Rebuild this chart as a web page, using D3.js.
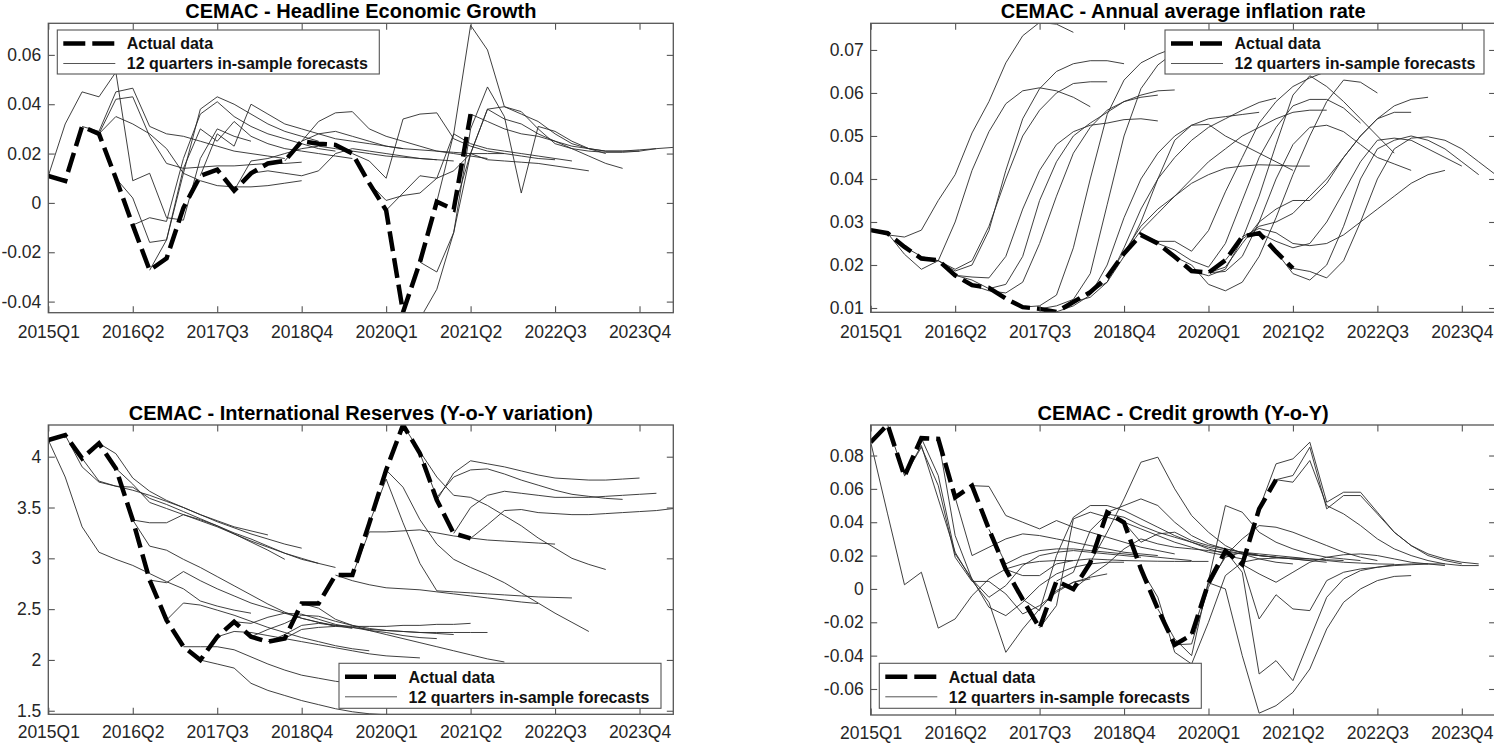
<!DOCTYPE html>
<html>
<head>
<meta charset="utf-8">
<script src="https://cdn.jsdelivr.net/npm/d3@7"></script>
<style>
  body { margin: 0; background: #fff; }
  svg { display: block; }
  text { font-family: "Liberation Sans", Arial, sans-serif; }
</style>
</head>
<body>
<svg id="chart" width="1494" height="744"></svg>
<script>
// quarter index: 0 = 2015Q1 ... 37 = 2024Q2
const tickIdx = [0, 5, 10, 15, 20, 25, 30, 35];
const tickLabels = ["2015Q1", "2016Q2", "2017Q3", "2018Q4", "2020Q1", "2021Q2", "2022Q3", "2023Q4"];
const legendLabels = ["Actual data", "12 quarters in-sample forecasts"];

// ---- Headline Economic Growth
const growthActual = [0.0109, 0.0089, 0.031, 0.028, 0.010, -0.009, -0.0273, -0.0225, -0.002, 0.011, 0.0135,
  0.005, 0.012, 0.016, 0.017, 0.025, 0.024, 0.0235, 0.020, 0.008, -0.003, -0.0443, -0.024, 0.0005, -0.0027, 0.036];
const growthYTicks = [-0.04, -0.02, 0, 0.02, 0.04, 0.06];
// [start quarter, values]
const growthForecasts = [
  [0, [0.0109, 0.032, 0.045, 0.043, 0.053, 0.009, 0.012, -0.006, -0.007, 0.018, 0.030, 0.027, 0.025]],
  [2, [0.031, 0.029, 0.045, 0.0465, 0.031, 0.028, 0.027, 0.025, 0.023, 0.021, 0.020, 0.019, 0.018]],
  [3, [0.028, 0.042, 0.043, 0.027, 0.016, 0.014, 0.0145, 0.015, 0.015, 0.0155, 0.016, 0.016, 0.0165]],
  [3, [0.028, 0.035, 0.032, 0.028, 0.022, 0.012, 0.009, 0.007, 0.0065, 0.0065, 0.007, 0.008, 0.009]],
  [4, [0.010, 0.002, -0.016, -0.015, 0.012, 0.038, 0.043, 0.040, 0.036, 0.032, 0.029, 0.027, 0.025]],
  [5, [-0.009, -0.006, -0.0075, 0.018, 0.036, 0.041, 0.035, 0.031, 0.028, 0.026, 0.024, 0.022, 0.021]],
  [6, [-0.0273, -0.015, 0.014, 0.030, 0.025, 0.033, 0.027, 0.024, 0.022, 0.021, 0.020, 0.019, 0.018]],
  [9, [0.011, 0.028, 0.023, 0.040, 0.036, 0.032, 0.030, 0.028, 0.026, 0.025, 0.024, 0.023, 0.022]],
  [11, [0.005, 0.017, 0.018, 0.020, 0.022, 0.023, 0.022, 0.021, 0.020, 0.019, 0.0185, 0.018, 0.0175]],
  [12, [0.012, 0.013, 0.012, 0.011, 0.013, 0.020, 0.022, 0.021, 0.020, 0.019, 0.018, 0.0175, 0.017]],
  [14, [0.017, 0.025, 0.033, 0.0365, 0.037, 0.030, 0.027, 0.025, 0.023, 0.021, 0.020, 0.019, 0.018]],
  [15, [0.025, 0.028, 0.029, 0.027, 0.025, 0.023, 0.022, 0.0215, 0.021, 0.0205, 0.020, 0.020, 0.020]],
  [18, [0.020, 0.017, 0.010, 0.034, 0.036, 0.0365, 0.026, 0.023, 0.021, 0.020, 0.019, 0.018, 0.0175]],
  [19, [0.008, 0.001, 0.003, 0.004, 0.010, 0.028, 0.024, 0.022, 0.021, 0.020, 0.019, 0.018, 0.017]],
  [20, [-0.003, 0.004, 0.011, 0.010, 0.013, 0.020, 0.0175, 0.017, 0.0165, 0.016, 0.015, 0.014, 0.013]],
  [21, [-0.0443, -0.047, -0.035, -0.012, 0.030, 0.047, 0.035, 0.004, 0.031, 0.029, 0.025, 0.022, 0.020]],
  [22, [-0.024, -0.028, -0.012, 0.020, 0.038, 0.034, 0.032, 0.028, 0.025, 0.022, 0.019, 0.016, 0.014]],
  [23, [0.0005, 0.028, 0.072, 0.062, 0.039, 0.037, 0.030, 0.024, 0.022, 0.021, 0.0205, 0.0205, 0.021]],
  [24, [-0.0027, 0.020, 0.038, 0.039, 0.036, 0.033, 0.028, 0.024, 0.022, 0.021, 0.021, 0.0215, 0.022]],
  [25, [0.036, 0.033, 0.030, 0.028, 0.027, 0.025, 0.023, 0.022, 0.021, 0.021, 0.021, 0.022, 0.0225]]
];

// ---- Annual average inflation rate
const inflActual = [0.0281, 0.0274, 0.0242, 0.0215, 0.0211, 0.0176, 0.0153, 0.0147, 0.0122, 0.0102, 0.0098,
  0.0091, 0.0114, 0.0137, 0.0172, 0.0227, 0.027, 0.025, 0.0219, 0.0186, 0.0182, 0.0211, 0.0266, 0.0274, 0.0231, 0.0192];
const inflYTicks = [0.01, 0.02, 0.03, 0.04, 0.05, 0.06, 0.07];
const inflForecasts = [
  [0, [0.0281, 0.027, 0.0265, 0.0281, 0.035, 0.041, 0.0507, 0.058, 0.067, 0.0733, 0.0764, 0.0760, 0.0741]],
  [1, [0.0274, 0.0225, 0.019, 0.021, 0.030, 0.042, 0.051, 0.0575, 0.0605, 0.0612, 0.0605, 0.059, 0.0568]],
  [2, [0.0242, 0.022, 0.021, 0.019, 0.021, 0.029, 0.040, 0.050, 0.056, 0.060, 0.0622, 0.0626, 0.0626]],
  [3, [0.0215, 0.021, 0.0186, 0.020, 0.028, 0.042, 0.054, 0.061, 0.065, 0.0668, 0.0675, 0.0675, 0.0668]],
  [5, [0.0176, 0.0165, 0.0145, 0.0155, 0.022, 0.035, 0.044, 0.050, 0.053, 0.0555, 0.058, 0.059, 0.0595]],
  [5, [0.0176, 0.0172, 0.017, 0.022, 0.033, 0.042, 0.048, 0.051, 0.0525, 0.053, 0.0538, 0.054, 0.0535]],
  [6, [0.0153, 0.014, 0.0135, 0.016, 0.025, 0.036, 0.046, 0.052, 0.056, 0.058, 0.0595, 0.0605, 0.0607]],
  [9, [0.0102, 0.0105, 0.013, 0.024, 0.040, 0.055, 0.063, 0.067, 0.069, 0.0705, 0.0715, 0.072, 0.0725]],
  [10, [0.0098, 0.0105, 0.012, 0.018, 0.034, 0.050, 0.061, 0.0665, 0.0695, 0.071, 0.072, 0.0725, 0.073]],
  [11, [0.0091, 0.0105, 0.013, 0.020, 0.031, 0.040, 0.046, 0.050, 0.0525, 0.054, 0.0545, 0.055, 0.0555]],
  [12, [0.0114, 0.0125, 0.016, 0.024, 0.033, 0.040, 0.045, 0.049, 0.052, 0.054, 0.056, 0.0578, 0.0588]],
  [13, [0.0137, 0.016, 0.022, 0.030, 0.040, 0.049, 0.0525, 0.0527, 0.050, 0.048, 0.046, 0.044, 0.042]],
  [14, [0.0172, 0.023, 0.029, 0.033, 0.036, 0.039, 0.041, 0.0425, 0.043, 0.0433, 0.0432, 0.0430, 0.0430]],
  [15, [0.0227, 0.028, 0.032, 0.036, 0.040, 0.044, 0.047, 0.050, 0.052, 0.054, 0.0555, 0.056, 0.056]],
  [16, [0.027, 0.0255, 0.0255, 0.0232, 0.028, 0.037, 0.045, 0.053, 0.058, 0.0615, 0.0635, 0.0650, 0.0645]],
  [17, [0.025, 0.0235, 0.021, 0.0195, 0.025, 0.035, 0.045, 0.052, 0.057, 0.0585, 0.0585, 0.0565, 0.053]],
  [18, [0.0219, 0.020, 0.0155, 0.014, 0.016, 0.022, 0.031, 0.041, 0.050, 0.058, 0.063, 0.0625, 0.060]],
  [19, [0.0186, 0.0175, 0.019, 0.026, 0.036, 0.048, 0.0595, 0.064, 0.0615, 0.058, 0.054, 0.050, 0.046]],
  [20, [0.0182, 0.0185, 0.022, 0.030, 0.040, 0.048, 0.052, 0.0525, 0.051, 0.048, 0.045, 0.0435, 0.042]],
  [20, [0.0182, 0.0195, 0.025, 0.030, 0.033, 0.035, 0.035, 0.039, 0.045, 0.050, 0.054, 0.0555, 0.0555]],
  [21, [0.0211, 0.026, 0.029, 0.030, 0.032, 0.036, 0.040, 0.045, 0.050, 0.054, 0.057, 0.0585, 0.059]],
  [22, [0.0266, 0.0285, 0.0275, 0.025, 0.0245, 0.025, 0.027, 0.030, 0.033, 0.036, 0.039, 0.041, 0.042]],
  [23, [0.0274, 0.0255, 0.024, 0.025, 0.030, 0.037, 0.044, 0.049, 0.0495, 0.049, 0.047, 0.045, 0.043]],
  [24, [0.0231, 0.018, 0.0165, 0.020, 0.029, 0.040, 0.047, 0.049, 0.050, 0.049, 0.047, 0.044, 0.041]],
  [25, [0.0192, 0.0185, 0.017, 0.021, 0.030, 0.040, 0.047, 0.0495, 0.0498, 0.049, 0.047, 0.044, 0.041]]
];

// ---- International Reserves (Y-o-Y variation)
const resActual = [4.164, 4.213, 3.984, 4.131, 3.885, 3.377, 2.786, 2.392, 2.130, 1.999, 2.228, 2.376, 2.228,
  2.179, 2.212, 2.556, 2.556, 2.835, 2.835, 3.344, 3.869, 4.312, 4.033, 3.573, 3.245, 3.196];
const resYTicks = [1.5, 2, 2.5, 3, 3.5, 4];
const resForecasts = [
  [0, [4.164, 3.80, 3.31, 3.06, 2.99, 2.93, 2.85, 2.77, 2.70, 2.58, 2.53, 2.49, 2.46]],
  [1, [4.213, 3.90, 3.75, 3.71, 3.67, 3.62, 3.56, 3.50, 3.43, 3.37, 3.31, 3.27, 3.23]],
  [2, [3.984, 3.76, 3.71, 3.70, 3.59, 3.53, 3.46, 3.39, 3.32, 3.24, 3.16, 3.08, 2.99]],
  [3, [4.131, 4.03, 3.79, 3.66, 3.57, 3.50, 3.43, 3.36, 3.30, 3.24, 3.19, 3.14, 3.10]],
  [4, [3.885, 3.73, 3.55, 3.49, 3.43, 3.37, 3.31, 3.24, 3.17, 3.11, 3.05, 3.00, 2.95]],
  [5, [3.377, 3.35, 3.35, 3.43, 3.38, 3.32, 3.25, 3.19, 3.12, 3.05, 2.99, 2.95, 2.91]],
  [5, [3.377, 3.12, 3.08, 2.99, 2.91, 2.82, 2.73, 2.64, 2.55, 2.47, 2.41, 2.37, 2.33]],
  [6, [2.786, 2.76, 2.87, 2.78, 2.70, 2.63, 2.56, 2.51, 2.46, 2.41, 2.37, 2.34, 2.31]],
  [7, [2.392, 2.56, 2.54, 2.49, 2.44, 2.38, 2.32, 2.27, 2.22, 2.18, 2.14, 2.11, 2.09]],
  [8, [2.130, 2.13, 2.13, 2.10, 2.03, 1.96, 1.90, 1.85, 1.82, 1.79, 1.77, 1.75, 1.73]],
  [9, [1.999, 1.96, 1.92, 1.77, 1.70, 1.65, 1.60, 1.56, 1.52, 1.49, 1.47, 1.46, 1.45]],
  [10, [2.228, 2.28, 2.27, 2.24, 2.21, 2.18, 2.15, 2.12, 2.09, 2.06, 2.04, 2.03, 2.02]],
  [11, [2.376, 2.36, 2.42, 2.46, 2.45, 2.40, 2.35, 2.32, 2.29, 2.27, 2.24, 2.22, 2.21]],
  [12, [2.228, 2.30, 2.36, 2.44, 2.43, 2.38, 2.34, 2.31, 2.29, 2.28, 2.27, 2.26, 2.25]],
  [13, [2.179, 2.25, 2.34, 2.36, 2.34, 2.33, 2.33, 2.33, 2.34, 2.34, 2.35, 2.35, 2.36]],
  [14, [2.212, 2.30, 2.32, 2.33, 2.32, 2.30, 2.29, 2.28, 2.27, 2.27, 2.27, 2.27, 2.27]],
  [15, [2.556, 2.51, 2.40, 2.34, 2.29, 2.25, 2.21, 2.17, 2.13, 2.09, 2.05, 2.01, 1.98]],
  [17, [2.835, 2.78, 2.74, 2.71, 2.70, 2.69, 2.67, 2.65, 2.63, 2.61, 2.59, 2.57, 2.555]],
  [18, [2.835, 3.26, 3.26, 3.27, 3.28, 3.25, 3.22, 3.20, 3.18, 3.17, 3.16, 3.15, 3.14]],
  [19, [3.344, 3.78, 3.35, 2.95, 2.68, 2.67, 2.66, 2.65, 2.64, 2.63, 2.62, 2.615, 2.61]],
  [20, [3.869, 3.70, 3.38, 3.14, 2.99, 2.91, 2.84, 2.76, 2.66, 2.56, 2.46, 2.37, 2.28]],
  [21, [4.312, 4.05, 3.80, 3.62, 3.60, 3.52, 3.42, 3.32, 3.20, 3.10, 3.00, 2.94, 2.89]],
  [22, [4.033, 3.60, 3.80, 3.87, 3.88, 3.83, 3.77, 3.72, 3.67, 3.63, 3.61, 3.59, 3.58]],
  [23, [3.573, 3.84, 3.96, 3.93, 3.90, 3.86, 3.82, 3.79, 3.78, 3.77, 3.77, 3.78, 3.79]],
  [24, [3.245, 3.50, 3.62, 3.66, 3.64, 3.62, 3.60, 3.60, 3.60, 3.61, 3.62, 3.63, 3.64]],
  [25, [3.196, 3.33, 3.47, 3.48, 3.45, 3.44, 3.43, 3.43, 3.44, 3.45, 3.46, 3.47, 3.49]]
];

// ---- Credit growth (Y-o-Y)
const creditActual = [0.088, 0.0985, 0.0676, 0.0904, 0.090, 0.0549, 0.0619, 0.0358, 0.0117, -0.0063, -0.0234,
  0.0047, -0.0001, 0.0157, 0.0459, 0.0398, 0.012, -0.012, -0.0335, -0.0275, 0.0037, 0.0228, 0.0147, 0.048, 0.0655];
const creditYTicks = [-0.06, -0.04, -0.02, 0, 0.02, 0.04, 0.06, 0.08];
const creditForecasts = [
  [0, [0.088, 0.045, 0.0025, 0.010, -0.0235, -0.018, -0.004, 0.006, 0.012, 0.015, 0.0165, 0.017, 0.017]],
  [1, [0.0985, 0.068, 0.086, 0.054, 0.022, 0.005, -0.008, -0.038, -0.024, -0.012, -0.001, 0.004, 0.006]],
  [2, [0.0676, 0.085, 0.062, 0.019, 0.0045, 0.0045, -0.003, -0.015, -0.010, -0.002, 0.004, 0.007, 0.009]],
  [3, [0.0904, 0.068, 0.021, 0.006, -0.011, -0.016, -0.008, 0.002, 0.009, 0.013, 0.015, 0.016, 0.016]],
  [4, [0.090, 0.032, 0.0057, -0.005, 0.002, 0.014, 0.020, 0.022, 0.023, 0.022, 0.021, 0.020, 0.019]],
  [5, [0.0549, 0.020, 0.025, 0.030, 0.033, 0.032, 0.030, 0.028, 0.026, 0.024, 0.022, 0.021, 0.020]],
  [6, [0.0619, 0.0615, 0.044, 0.040, 0.036, 0.041, 0.037, 0.034, 0.031, 0.028, 0.025, 0.023, 0.021]],
  [7, [0.0358, 0.015, 0.020, 0.023, 0.024, 0.024, 0.023, 0.022, 0.021, 0.020, 0.019, 0.018, 0.017]],
  [8, [0.0117, 0.008, 0.008, 0.015, 0.017, 0.018, 0.0175, 0.017, 0.0168, 0.0166, 0.0165, 0.0165, 0.0165]],
  [9, [-0.0063, -0.013, 0.020, 0.043, 0.050, 0.050, 0.047, 0.042, 0.037, 0.032, 0.028, 0.024, 0.021]],
  [10, [-0.0234, -0.010, 0.042, 0.046, 0.043, 0.040, 0.036, 0.032, 0.028, 0.025, 0.022, 0.020, 0.018]],
  [11, [0.0047, 0.010, 0.035, 0.045, 0.043, 0.038, 0.034, 0.031, 0.028, 0.025, 0.023, 0.021, 0.020]],
  [12, [-0.0001, 0.008, 0.015, 0.024, 0.030, 0.027, 0.025, 0.024, 0.023, 0.022, 0.021, 0.020, 0.019]],
  [13, [0.0157, 0.034, 0.054, 0.076, 0.079, 0.060, 0.044, 0.034, 0.026, 0.021, 0.018, 0.016, 0.015]],
  [14, [0.0459, 0.050, 0.054, 0.050, 0.040, 0.032, 0.027, 0.024, 0.022, 0.020, 0.019, 0.018, 0.017]],
  [15, [0.0398, 0.028, 0.033, 0.034, 0.029, 0.026, 0.024, 0.022, 0.020, 0.019, 0.018, 0.017, 0.016]],
  [16, [0.012, -0.005, -0.038, -0.045, -0.020, 0.008, 0.016, 0.018, 0.0185, 0.0185, 0.018, 0.0175, 0.017]],
  [17, [-0.012, -0.030, -0.040, 0.005, 0.050, 0.046, 0.034, 0.028, 0.024, 0.021, 0.019, 0.018, 0.017]],
  [18, [-0.0335, -0.033, 0.001, 0.020, 0.030, 0.038, 0.037, 0.034, 0.030, 0.026, 0.022, 0.019, 0.017]],
  [19, [-0.0275, 0.003, 0.019, 0.022, 0.021, 0.020, 0.019, 0.018, 0.017, 0.016, 0.0155, 0.015, 0.0148]],
  [20, [0.0037, 0.0, -0.040, -0.0745, -0.070, -0.062, -0.048, -0.024, -0.008, 0.0, 0.005, 0.0075, 0.008]],
  [21, [0.0228, 0.010, -0.051, -0.043, -0.055, -0.030, -0.005, 0.006, 0.011, 0.013, 0.0145, 0.015, 0.015]],
  [22, [0.0147, -0.018, -0.0035, -0.012, -0.013, 0.005, 0.010, 0.012, 0.013, 0.014, 0.0145, 0.015, 0.015]],
  [22, [0.0147, 0.009, 0.004, 0.010, 0.016, 0.019, 0.0205, 0.021, 0.020, 0.018, 0.016, 0.015, 0.014]],
  [23, [0.048, 0.075, 0.078, 0.088, 0.052, 0.058, 0.058, 0.046, 0.034, 0.026, 0.020, 0.017, 0.015]],
  [24, [0.0655, 0.068, 0.085, 0.048, 0.056, 0.056, 0.045, 0.034, 0.026, 0.021, 0.018, 0.016, 0.015]],
  [24, [0.0655, 0.064, 0.077, 0.050, 0.045, 0.038, 0.030, 0.024, 0.020, 0.017, 0.015, 0.014, 0.014]]
];

const panels = [
  { title: "CEMAC - Headline Economic Growth", actual: growthActual, forecasts: growthForecasts,
    yDomain: [-0.0445, 0.0728], yTicks: growthYTicks,
    left: 48.3, right: 673.3, top: 23.3, bottom: 312.7, titleY: 18.3, labelY: 338.3,
    legend: { x: 57.3, y: 30, w: 322, h: 44 } },
  { title: "CEMAC - Annual average inflation rate", actual: inflActual, forecasts: inflForecasts,
    yDomain: [0.009, 0.0762], yTicks: inflYTicks,
    left: 870.7, right: 1495.6, top: 23.3, bottom: 312.3, titleY: 18.3, labelY: 338.3,
    legend: { x: 1165, y: 30, w: 319, h: 44 } },
  { title: "CEMAC - International Reserves (Y-o-Y variation)", actual: resActual, forecasts: resForecasts,
    yDomain: [1.465, 4.312], yTicks: resYTicks,
    left: 48.3, right: 673.3, top: 425, bottom: 714.3, titleY: 420, labelY: 738.5,
    legend: { x: 339, y: 663.3, w: 322, h: 45 } },
  { title: "CEMAC - Credit growth (Y-o-Y)", actual: creditActual, forecasts: creditForecasts,
    yDomain: [-0.0756, 0.0983], yTicks: creditYTicks,
    left: 870.7, right: 1495.6, top: 425, bottom: 715, titleY: 420, labelY: 738.5,
    legend: { x: 879.3, y: 663.3, w: 322, h: 45 } }
];

const svg = d3.select("#chart");
svg.append("rect").attr("width", 1494).attr("height", 744).attr("fill", "#fff");

const axisColor = "#555";
const tickLen = 6.5;
const dash = "20,7";

panels.forEach(function (p, pi) {
  let x = d3.scaleLinear().domain([0, 37]).range([p.left, p.right]);
  let y = d3.scaleLinear().domain(p.yDomain).range([p.bottom, p.top]);

  let clipId = "clip" + pi;
  svg.append("clipPath").attr("id", clipId)
    .append("rect")
    .attr("x", p.left).attr("y", p.top)
    .attr("width", p.right - p.left).attr("height", p.bottom - p.top);

  let plot = svg.append("g").attr("clip-path", "url(#" + clipId + ")");

  // forecasts
  p.forecasts.forEach(function (f) {
    let start = f[0];
    let line = d3.line().x((d, i) => x(start + i)).y(d => y(d));
    plot.append("path")
      .attr("d", line(f[1]))
      .attr("fill", "none")
      .attr("stroke", "#2a2a2a")
      .attr("stroke-width", 0.9);
  });

  // actual data
  let actualLine = d3.line().x((d, i) => x(i)).y(d => y(d));
  plot.append("path")
    .attr("d", actualLine(p.actual))
    .attr("fill", "none")
    .attr("stroke", "#000")
    .attr("stroke-width", 4.5)
    .attr("stroke-dasharray", dash);

  //Axes: ticks point inward on all four sides
  let bottomAxis = svg.append("g")
    .attr("transform", "translate(0," + p.bottom + ")")
    .call(d3.axisBottom(x).tickValues(tickIdx).tickFormat((d, i) => tickLabels[i])
      .tickSizeInner(-tickLen).tickSizeOuter(0).tickPadding(0));
  bottomAxis.selectAll("text").attr("y", p.labelY - p.bottom).attr("dy", null);

  svg.append("g")
    .attr("transform", "translate(0," + p.top + ")")
    .call(d3.axisTop(x).tickValues(tickIdx).tickFormat("").tickSizeInner(-tickLen).tickSizeOuter(0));

  svg.append("g")
    .attr("transform", "translate(" + p.left + ",0)")
    .call(d3.axisLeft(y).tickValues(p.yTicks).tickFormat(d => String(d))
      .tickSizeInner(-tickLen).tickSizeOuter(0).tickPadding(7));

  svg.append("g")
    .attr("transform", "translate(" + p.right + ",0)")
    .call(d3.axisRight(y).tickValues(p.yTicks).tickFormat("").tickSizeInner(-tickLen).tickSizeOuter(0));

  svg.selectAll(".domain").remove();
  svg.selectAll(".tick line").attr("stroke", axisColor).attr("stroke-width", 1.1);
  svg.selectAll(".tick text")
    .attr("fill", "#262626")
    .style("font-size", "17.5px")
    .style("font-family", "'Liberation Sans', Arial, sans-serif");

  svg.append("rect")
    .attr("x", p.left).attr("y", p.top)
    .attr("width", p.right - p.left).attr("height", p.bottom - p.top)
    .attr("fill", "none")
    .attr("stroke", axisColor)
    .attr("stroke-width", 1.3);

  // title
  svg.append("text")
    .attr("x", (p.left + p.right) / 2)
    .attr("y", p.titleY)
    .attr("text-anchor", "middle")
    .attr("font-size", "20px")
    .attr("font-weight", "bold")
    .attr("fill", "#000")
    .text(p.title);

  // legend
  let lg = p.legend;
  let leg = svg.append("g");
  leg.append("rect")
    .attr("x", lg.x).attr("y", lg.y).attr("width", lg.w).attr("height", lg.h)
    .attr("fill", "#fff").attr("stroke", axisColor).attr("stroke-width", 1.1);
  let row1 = lg.y + 13.5, row2 = lg.y + 33.5;
  leg.append("line")
    .attr("x1", lg.x + 6).attr("x2", lg.x + 58).attr("y1", row1).attr("y2", row1)
    .attr("stroke", "#000").attr("stroke-width", 4.5).attr("stroke-dasharray", "22,7");
  leg.append("line")
    .attr("x1", lg.x + 6).attr("x2", lg.x + 58).attr("y1", row2).attr("y2", row2)
    .attr("stroke", "#555").attr("stroke-width", 1);
  [row1, row2].forEach(function (ry, i) {
    leg.append("text")
      .attr("x", lg.x + 69.5).attr("y", ry + 5.8)
      .attr("font-size", "16px").attr("font-weight", "bold").attr("fill", "#111")
      .text(legendLabels[i]);
  });
});
</script>
</body>
</html>
